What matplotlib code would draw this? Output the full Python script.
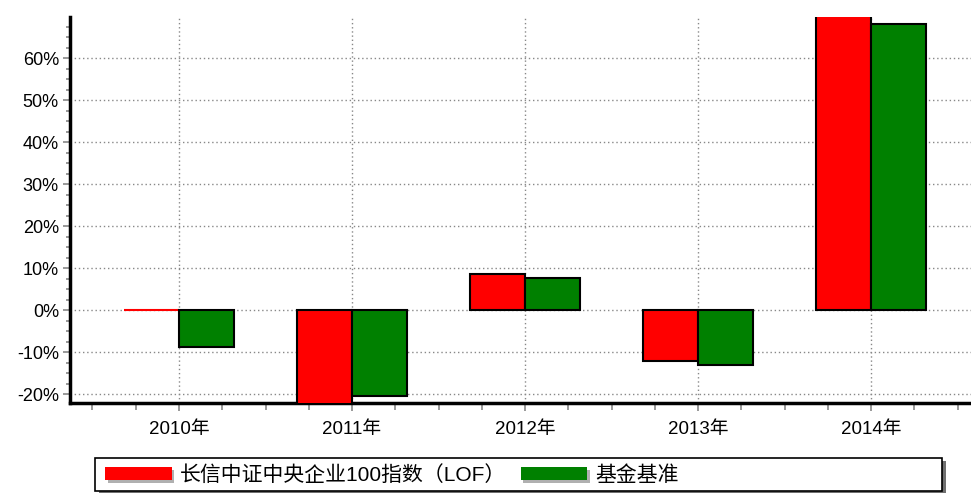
import matplotlib
matplotlib.use("Agg")
import matplotlib.pyplot as plt
import numpy as np
from matplotlib.ticker import MultipleLocator, FuncFormatter
from matplotlib.patches import Rectangle
import matplotlib.patheffects as pe

plt.rcParams['font.family'] = ['Liberation Sans', 'Noto Sans CJK SC', 'DejaVu Sans']

categories = ['2010年', '2011年', '2012年', '2013年', '2014年']
fund_values = [0.0, -22.6, 8.6, -12.1, 70.8]
bench_values = [-8.8, -20.5, 7.6, -13.1, 68.1]
series_names = ['长信中证中央企业100指数（LOF）', '基金基准']
colors = ['#ff0000', '#008000']

fig = plt.figure(figsize=(9.71, 4.93), dpi=100)
ax = fig.add_axes([0.0721, 0.1826, 0.9279, 0.7829])

x = np.arange(len(categories))
w = 0.32
edge_f = ['black' if v != 0 else colors[0] for v in fund_values]
edge_b = ['black' if v != 0 else colors[1] for v in bench_values]
ax.bar(x - w / 2, fund_values, w, color=colors[0], edgecolor=edge_f, linewidth=1.5, zorder=3,
       label=series_names[0])
ax.bar(x + w / 2, bench_values, w, color=colors[1], edgecolor=edge_b, linewidth=1.5, zorder=3,
       label=series_names[1])

ax.set_xlim(-0.63, 4.578)
ax.set_ylim(-22.1, 69.8)

ax.set_xticks(x)
ax.set_xticklabels(categories)
ax.xaxis.set_minor_locator(MultipleLocator(0.25))
ax.yaxis.set_major_locator(MultipleLocator(10))
ax.yaxis.set_minor_locator(MultipleLocator(2.5))
ax.yaxis.set_major_formatter(FuncFormatter(lambda v, p: f'{int(round(v))}%'))

ax.grid(True, which='major', linestyle=(0, (1, 2)), color='#888888', linewidth=1.0, zorder=0)

for s in ['top', 'right']:
    ax.spines[s].set_visible(False)
for s in ['left', 'bottom']:
    ax.spines[s].set_linewidth(2.5)
    ax.spines[s].set_color('black')

ax.tick_params(axis='y', which='major', direction='out', length=5, width=1.2, color='#888888',
               labelsize=13, pad=3)
ax.tick_params(axis='y', which='minor', direction='out', length=3, width=1.2, color='#888888')
ax.tick_params(axis='x', which='major', direction='out', length=6, width=1.2, color='#888888',
               labelsize=13.5, pad=7)
ax.tick_params(axis='x', which='minor', direction='out', length=5, width=1.2, color='#888888')

# legend frame with shadow
fx0, fy0, fw, fh = 0.098, 0.004, 0.872, 0.066
shadow = Rectangle((fx0 + 0.004, fy0 - 0.006), fw, fh, transform=fig.transFigure,
                   facecolor='#707070', edgecolor='none', zorder=0)
frame = Rectangle((fx0, fy0), fw, fh, transform=fig.transFigure,
                  facecolor='white', edgecolor='black', linewidth=1.2, zorder=1)
fig.patches.extend([shadow, frame])

handles, labels = ax.get_legend_handles_labels()
leg = fig.legend(handles, labels, loc='center left', bbox_to_anchor=(fx0 + 0.010, fy0 + fh / 2),
                 ncol=2, frameon=False, handlelength=3.2, handleheight=0.6, handletextpad=0.4,
                 columnspacing=0.7, borderaxespad=0, borderpad=0,
                 prop={'family': ['Liberation Sans', 'Noto Sans CJK SC', 'DejaVu Sans'], 'size': 15})
for p in leg.get_patches():
    p.set_edgecolor('none')
    p.set_path_effects([pe.SimplePatchShadow(offset=(2, -2), shadow_rgbFace='#b0b0b0', alpha=1.0),
                        pe.Normal()])

fig.savefig('out.png', dpi=100)
